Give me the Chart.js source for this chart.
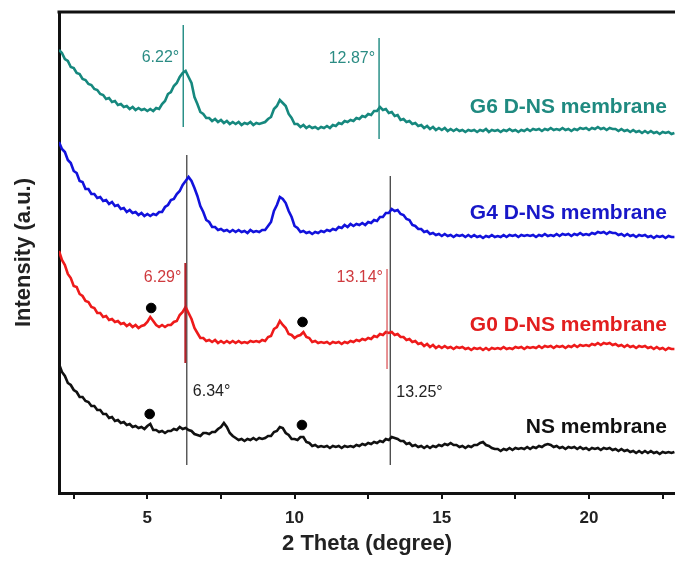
<!DOCTYPE html>
<html>
<head>
<meta charset="utf-8">
<script src="https://cdn.jsdelivr.net/npm/chart.js@4"></script>
<style>
	html, body { margin: 0; padding: 0; background: #fff; }
</style>
</head>
<body>
<canvas id="xrdChart" width="675" height="561"></canvas>
<script>
// 2 theta grid (degree)
const theta = [
	2.0, 2.1, 2.2, 2.3, 2.4, 2.5, 2.6, 2.7, 2.8, 2.9,
	3.0, 3.1, 3.2, 3.3, 3.4, 3.5, 3.6, 3.7, 3.8, 3.9,
	4.0, 4.1, 4.2, 4.3, 4.4, 4.5, 4.6, 4.7, 4.8, 4.9,
	5.0, 5.1, 5.2, 5.3, 5.4, 5.5, 5.6, 5.7, 5.8, 5.9,
	6.0, 6.1, 6.2, 6.3, 6.4, 6.5, 6.6, 6.7, 6.8, 6.9,
	7.0, 7.1, 7.2, 7.3, 7.4, 7.5, 7.6, 7.7, 7.8, 7.9,
	8.0, 8.1, 8.2, 8.3, 8.4, 8.5, 8.6, 8.7, 8.8, 8.9,
	9.0, 9.1, 9.2, 9.3, 9.4, 9.5, 9.6, 9.7, 9.8, 9.9,
	10.0, 10.1, 10.2, 10.3, 10.4, 10.5, 10.6, 10.7, 10.8, 10.9,
	11.0, 11.1, 11.2, 11.3, 11.4, 11.5, 11.6, 11.7, 11.8, 11.9,
	12.0, 12.1, 12.2, 12.3, 12.4, 12.5, 12.6, 12.7, 12.8, 12.9,
	13.0, 13.1, 13.2, 13.3, 13.4, 13.5, 13.6, 13.7, 13.8, 13.9,
	14.0, 14.1, 14.2, 14.3, 14.4, 14.5, 14.6, 14.7, 14.8, 14.9,
	15.0, 15.1, 15.2, 15.3, 15.4, 15.5, 15.6, 15.7, 15.8, 15.9,
	16.0, 16.1, 16.2, 16.3, 16.4, 16.5, 16.6, 16.7, 16.8, 16.9,
	17.0, 17.1, 17.2, 17.3, 17.4, 17.5, 17.6, 17.7, 17.8, 17.9,
	18.0, 18.1, 18.2, 18.3, 18.4, 18.5, 18.6, 18.7, 18.8, 18.9,
	19.0, 19.1, 19.2, 19.3, 19.4, 19.5, 19.6, 19.7, 19.8, 19.9,
	20.0, 20.1, 20.2, 20.3, 20.4, 20.5, 20.6, 20.7, 20.8, 20.9,
	21.0, 21.1, 21.2, 21.3, 21.4, 21.5, 21.6, 21.7, 21.8, 21.9,
	22.0, 22.1, 22.2, 22.3, 22.4, 22.5, 22.6, 22.7, 22.8, 22.9
];

// intensities (a.u., curves already stacked with their offsets)
const nsMembrane = [
	129, 121, 117, 110, 108, 103, 101, 96, 96, 92,
	91, 87, 87, 83, 83, 79, 79, 75, 76, 72,
	73, 70, 71, 68, 69, 66, 67, 65, 66, 64,
	67, 69, 63, 63, 61, 62, 60, 62, 62, 64,
	63, 66, 64, 65, 63, 62, 59, 58, 57, 60,
	60, 59, 61, 61, 64, 66, 70, 66, 60, 57,
	55, 53, 54, 52, 54, 53, 55, 53, 55, 54,
	55, 57, 57, 61, 62, 66, 65, 60, 58, 54,
	54, 53, 56, 56, 51, 50, 47, 48, 46, 47,
	46, 47, 45, 47, 46, 47, 45, 47, 46, 47,
	46, 48, 47, 49, 48, 50, 49, 51, 50, 52,
	51, 54, 53, 56, 55, 54, 52, 52, 49, 50,
	47, 48, 46, 47, 45, 47, 45, 47, 46, 48,
	47, 49, 48, 50, 48, 48, 46, 47, 45, 47,
	46, 48, 48, 50, 51, 48, 47, 45, 44, 44,
	42, 44, 43, 45, 43, 45, 44, 45, 44, 46,
	44, 46, 45, 47, 46, 48, 49, 48, 46, 47,
	45, 46, 44, 46, 45, 46, 44, 46, 44, 45,
	43, 45, 44, 45, 43, 45, 44, 45, 43, 44,
	42, 44, 42, 43, 41, 42, 40, 42, 40, 42,
	40, 42, 40, 41, 39, 41, 40, 41, 40, 41
];
const g0Membrane = [
	242, 233, 228, 219, 215, 207, 206, 199, 197, 192,
	191, 186, 185, 180, 180, 176, 177, 173, 174, 171,
	172, 169, 170, 167, 169, 166, 168, 165, 167, 168,
	171, 176, 172, 168, 166, 168, 166, 168, 168, 171,
	172, 178, 181, 186, 180, 174, 165, 160, 155, 155,
	152, 153, 151, 153, 150, 152, 150, 152, 150, 152,
	150, 152, 150, 151, 150, 152, 151, 152, 151, 153,
	152, 156, 157, 164, 166, 172, 168, 165, 159, 158,
	155, 157, 158, 161, 156, 155, 151, 152, 150, 151,
	150, 151, 149, 151, 150, 151, 149, 151, 150, 152,
	151, 153, 152, 154, 153, 155, 154, 157, 156, 159,
	158, 161, 160, 161, 158, 159, 156, 156, 153, 154,
	151, 152, 149, 150, 147, 149, 146, 148, 145, 147,
	145, 147, 145, 146, 144, 146, 145, 146, 144, 145,
	143, 145, 144, 145, 143, 145, 143, 145, 144, 145,
	144, 146, 144, 145, 144, 146, 145, 146, 144, 146,
	145, 146, 145, 147, 145, 147, 146, 147, 145, 147,
	146, 147, 145, 147, 146, 148, 146, 148, 147, 148,
	147, 149, 148, 150, 148, 150, 149, 150, 148, 149,
	147, 148, 146, 148, 146, 147, 145, 147, 146, 147,
	145, 146, 144, 146, 144, 145, 143, 145, 144, 144
];
const g4Membrane = [
	351, 344, 341, 333, 330, 322, 320, 312, 311, 304,
	304, 299, 299, 295, 296, 292, 293, 289, 291, 287,
	288, 284, 285, 281, 283, 280, 281, 278, 280, 277,
	279, 277, 279, 278, 281, 281, 286, 288, 293, 294,
	299, 302, 308, 312, 316, 312, 305, 297, 287, 281,
	273, 271, 266, 266, 263, 264, 262, 263, 261, 263,
	261, 263, 261, 262, 260, 263, 261, 262, 261, 263,
	263, 267, 271, 282, 288, 296, 294, 290, 282, 276,
	267, 265, 261, 262, 260, 261, 259, 261, 260, 262,
	261, 263, 262, 264, 263, 266, 265, 268, 266, 269,
	267, 269, 268, 270, 268, 271, 270, 273, 272, 276,
	276, 280, 280, 284, 282, 283, 279, 278, 274, 273,
	268, 267, 264, 264, 261, 262, 259, 260, 258, 259,
	257, 259, 257, 258, 256, 258, 257, 258, 256, 258,
	256, 258, 256, 257, 255, 257, 256, 258, 256, 257,
	256, 258, 256, 258, 257, 258, 256, 258, 257, 258,
	257, 258, 256, 258, 257, 259, 257, 258, 257, 259,
	257, 259, 258, 259, 257, 259, 258, 260, 258, 259,
	258, 260, 259, 261, 260, 261, 259, 261, 260, 260,
	258, 259, 257, 259, 257, 258, 256, 258, 257, 258,
	256, 257, 255, 257, 256, 257, 255, 257, 256, 256
];
const g6Membrane = [
	443, 440, 434, 432, 426, 425, 420, 419, 414, 413,
	409, 408, 404, 403, 399, 398, 394, 395, 391, 392,
	388, 389, 386, 387, 384, 386, 383, 385, 383, 384,
	382, 384, 382, 385, 384, 389, 392, 399, 401, 407,
	410, 416, 420, 422, 416, 410, 396, 389, 381, 379,
	375, 375, 372, 374, 371, 373, 370, 372, 369, 371,
	369, 371, 368, 370, 369, 371, 368, 370, 369, 370,
	371, 374, 376, 384, 387, 393, 390, 387, 379, 375,
	369, 369, 366, 368, 365, 367, 365, 366, 364, 366,
	365, 367, 365, 368, 367, 370, 369, 372, 371, 373,
	372, 375, 374, 377, 376, 379, 378, 382, 382, 386,
	383, 384, 380, 381, 377, 378, 373, 374, 371, 372,
	369, 370, 367, 368, 365, 367, 364, 366, 363, 365,
	363, 365, 362, 364, 362, 364, 362, 363, 361, 363,
	362, 363, 361, 363, 362, 364, 361, 363, 362, 363,
	361, 363, 362, 364, 362, 363, 361, 363, 362, 364,
	362, 364, 363, 364, 362, 364, 363, 365, 363, 364,
	363, 365, 363, 364, 362, 364, 363, 365, 364, 365,
	363, 365, 364, 366, 364, 365, 363, 365, 364, 364,
	362, 364, 362, 363, 361, 363, 361, 362, 360, 362,
	360, 362, 360, 361, 359, 361, 360, 361, 359, 360
];

const seriesNames = ["NS membrane", "G0 D-NS membrane", "G4 D-NS membrane", "G6 D-NS membrane"];
const seriesColors = ["#111111", "#ee1a1a", "#1212dc", "#16887e"];
const nameColors = ["#111111", "#e21e1e", "#1717c8", "#1f8a80"];
const nameLevels = [66, 168, 280, 386];
const nameTheta = 22.65;

// peak position markers
const peakTheta = [6.34, 13.25, 6.29, 13.14, 6.22, 12.87];
const peakLabels = ["6.34°", "13.25°", "6.29°", "13.14°", "6.22°", "12.87°"];
const peakFrom = [28, 28, 130, 124, 366, 354];
const peakTo = [338, 317, 230, 224, 468, 455];
const peakLabelLevel = [101, 100, 215, 215, 435, 434];
const peakLabelSide = ["right", "right", "left", "left", "left", "left"];
const peakColors = ["#333333", "#333333", "#b3222a", "#d8474b", "#2a9088", "#2a9088"];
const peakWidths = [1.2, 1.2, 2, 1.2, 1.5, 1.5];
const peakTextColors = ["#222222", "#222222", "#cf3a3e", "#cf3a3e", "#2b8c84", "#2b8c84"];

// black dots over the impurity reflections
const dotTheta = [5.08, 10.25, 5.13, 10.27];
const dotLevel = [79, 68, 185, 171];

const FONT = "'Liberation Sans', Arial, sans-serif";
Chart.defaults.font.family = FONT;

const curves = [nsMembrane, g0Membrane, g4Membrane, g6Membrane];

const datasets = [];

// dots on top
datasets.push({
	type: "scatter",
	data: dotTheta.map((t, i) => ({ x: t, y: dotLevel[i] })),
	backgroundColor: "#000",
	borderColor: "#000",
	pointRadius: 4.8,
	pointHoverRadius: 4.8,
	order: 0,
});

curves.forEach((values, i) => {
	datasets.push({
		data: theta.map((t, j) => ({ x: t, y: values[j] })),
		borderColor: seriesColors[i],
		borderWidth: 2.6,
		pointRadius: 0,
		tension: 0,
		fill: false,
		order: 2,
	});
});

peakTheta.forEach((t, i) => {
	datasets.push({
		data: [{ x: t, y: peakFrom[i] }, { x: t, y: peakTo[i] }],
		borderColor: peakColors[i],
		borderWidth: peakWidths[i],
		pointRadius: 0,
		fill: false,
		order: i >= 2 && i <= 3 ? 1 : 3,
	});
});

const textPlugin = {
	id: "xrdText",
	afterDatasetsDraw(chart) {
		const { ctx, chartArea, scales } = chart;
		const x = scales.x;
		const y = scales.y;
		ctx.save();

		// top edge of the frame
		ctx.strokeStyle = "#111";
		ctx.lineWidth = 3;
		ctx.beginPath();
		ctx.moveTo(chartArea.left - 1.5, chartArea.top);
		ctx.lineTo(chartArea.right, chartArea.top);
		ctx.stroke();

		// peak labels
		ctx.font = "16px " + FONT;
		ctx.textBaseline = "middle";
		peakLabels.forEach((label, i) => {
			const px = x.getPixelForValue(peakTheta[i]);
			const py = y.getPixelForValue(peakLabelLevel[i]);
			ctx.fillStyle = peakTextColors[i];
			if (peakLabelSide[i] === "right") {
				ctx.textAlign = "left";
				ctx.fillText(label, px + 6, py);
			} else {
				ctx.textAlign = "right";
				ctx.fillText(label, px - 4, py);
			}
		});

		// series names
		ctx.font = "bold 21px " + FONT;
		ctx.textAlign = "right";
		seriesNames.forEach((name, i) => {
			ctx.fillStyle = nameColors[i];
			ctx.fillText(name, x.getPixelForValue(nameTheta), y.getPixelForValue(nameLevels[i]));
		});
		ctx.restore();
	},
};

new Chart(document.getElementById("xrdChart"), {
	type: "line",
	data: { datasets: datasets },
	options: {
		responsive: false,
		animation: false,
		events: [],
		layout: {
			autoPadding: false,
			padding: { top: 12, right: 0, left: 0, bottom: 0 },
		},
		plugins: {
			legend: { display: false },
			tooltip: { enabled: false },
		},
		scales: {
			x: {
				type: "linear",
				min: 2,
				max: 22.92,
				afterFit: (scale) => {
					scale.height = 68;
					scale.paddingLeft = 0;
					scale.paddingRight = 0;
				},
				ticks: {
					stepSize: 2.5,
					includeBounds: false,
					autoSkip: false,
					maxRotation: 0,
					padding: 9,
					color: "#222",
					font: { size: 17, weight: "bold" },
					callback: (value) => (value % 5 === 0 ? value : ""),
				},
				grid: {
					display: true,
					drawOnChartArea: false,
					drawTicks: true,
					tickLength: 6,
					color: "#111",
					lineWidth: 2,
				},
				border: { display: true, color: "#111", width: 3 },
				title: {
					display: true,
					text: "2 Theta (degree)",
					color: "#222",
					font: { size: 22, weight: "bold" },
					padding: { top: 0, bottom: 4 },
				},
			},
			y: {
				type: "linear",
				min: 0,
				max: 481,
				afterFit: (scale) => {
					scale.width = 59;
				},
				ticks: { display: false },
				grid: { display: false },
				border: { display: true, color: "#111", width: 3 },
				title: {
					display: true,
					text: "Intensity (a.u.)",
					color: "#222",
					font: { size: 22, weight: "bold" },
					padding: { top: 11, bottom: 0 },
				},
			},
		},
	},
	plugins: [textPlugin],
});
</script>
</body>
</html>
